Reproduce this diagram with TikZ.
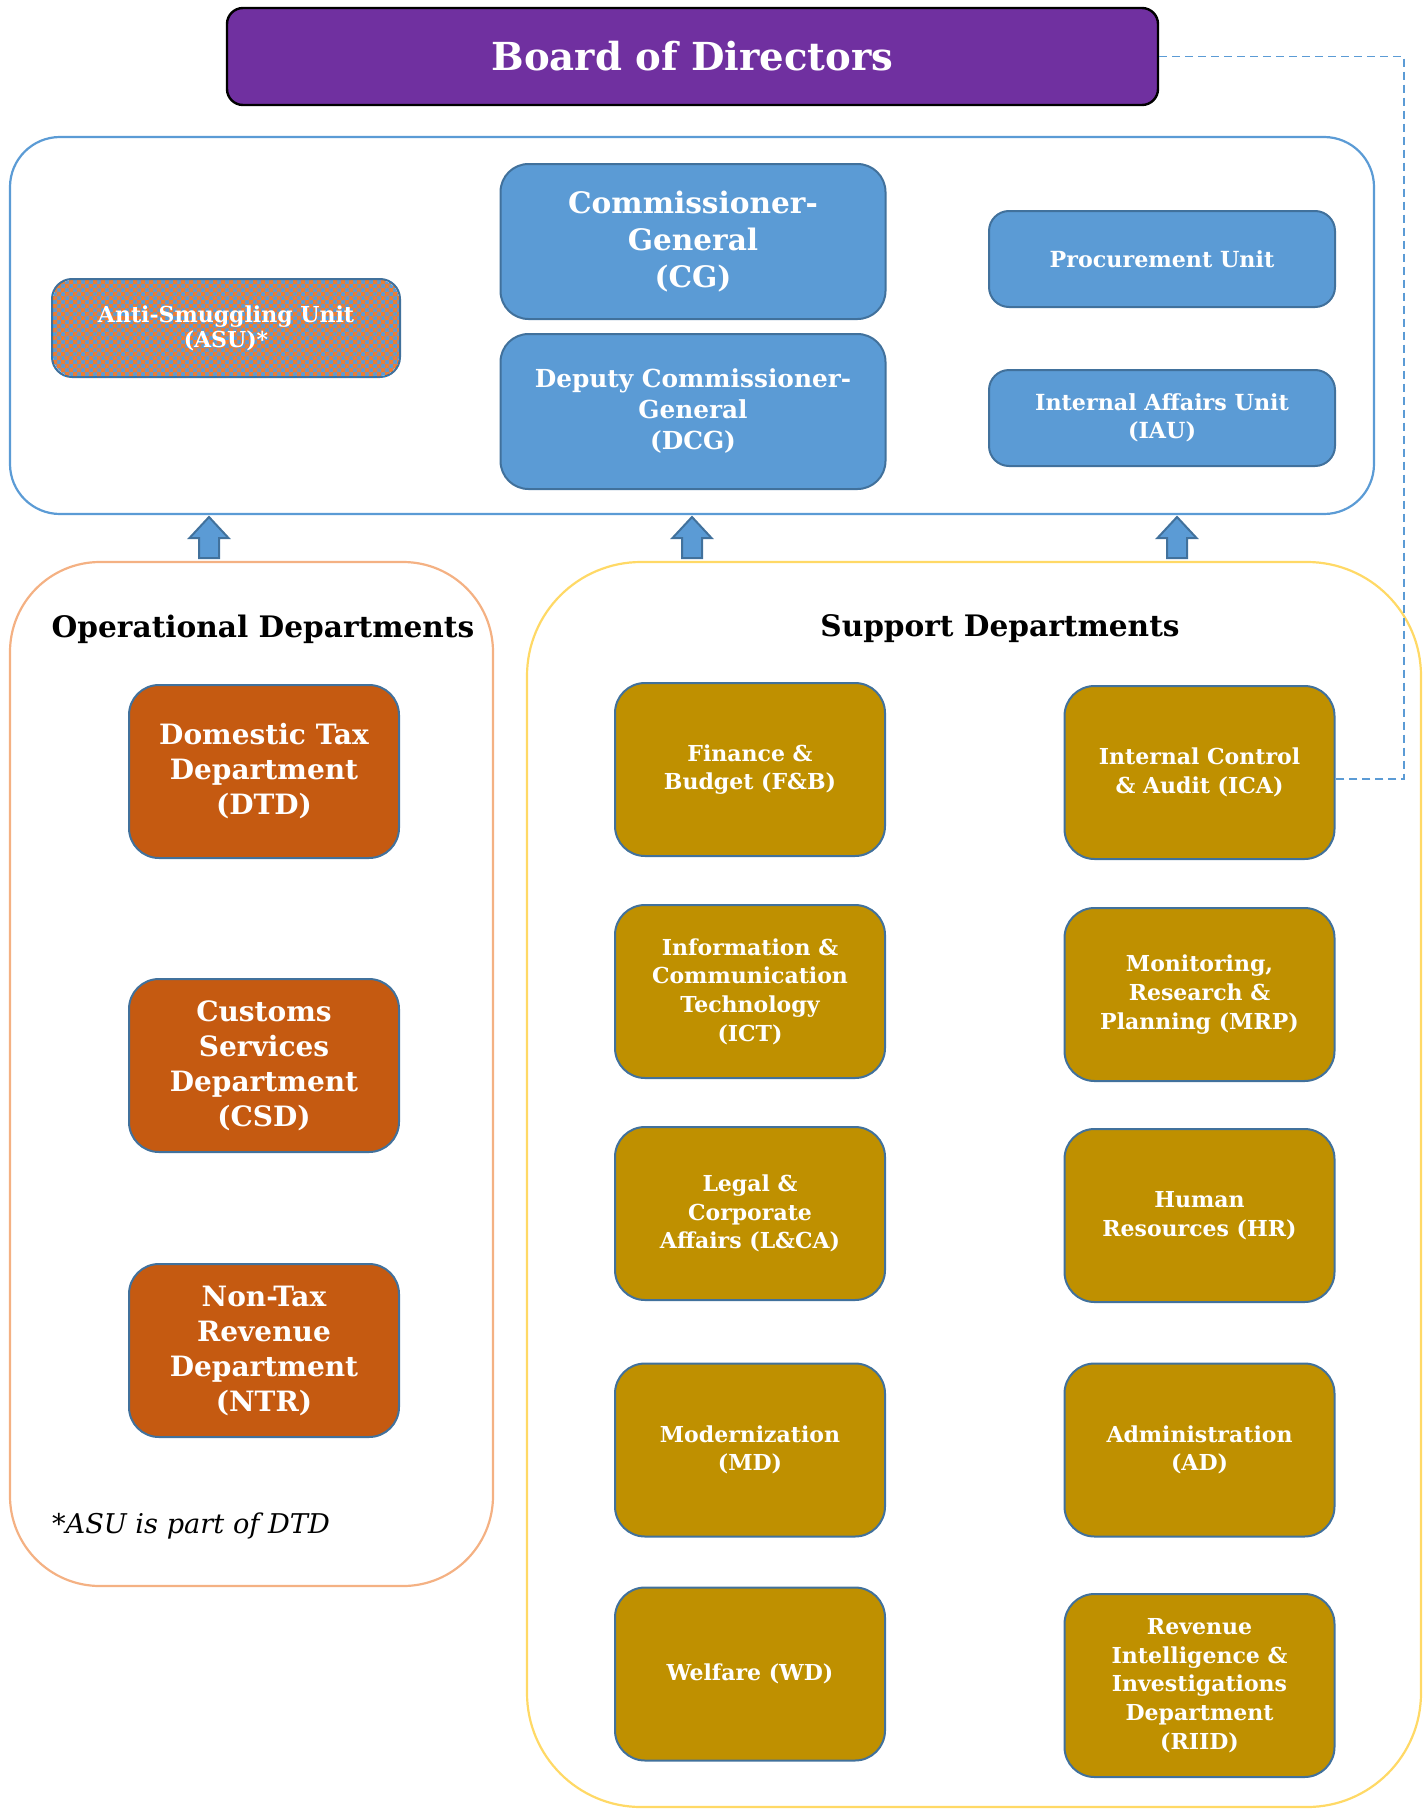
\documentclass[tikz,border=0pt]{standalone}
\usepackage{fontspec}
\setmainfont{DejaVu Serif}

\definecolor{boardpurple}{HTML}{7030A0}
\definecolor{unitblue}{HTML}{5B9BD5}
\definecolor{edgeblue}{HTML}{41719C}
\definecolor{opsorange}{HTML}{C55A11}
\definecolor{supgold}{HTML}{BF9000}
\definecolor{opsframe}{HTML}{F4B183}
\definecolor{supframe}{HTML}{FFD966}
\definecolor{checkorange}{HTML}{ED7D31}

\tikzset{
  frame/.style={draw, line width=1.1pt, rounded corners=#1, inner sep=0pt},
  unitbox/.style={draw=edgeblue, line width=1pt, fill=unitblue, rounded corners=14pt,
    text=white, font=\bfseries, align=center, inner sep=2pt},
  deptbox/.style={draw=edgeblue, line width=1pt, rounded corners=15pt,
    text=white, font=\bfseries, align=center, inner sep=2pt,
    minimum width=135pt, minimum height=86.5pt},
  opsbox/.style={deptbox, fill=opsorange, font=\bfseries\fontsize{14}{17.5}\selectfont},
  supbox/.style={deptbox, fill=supgold, font=\bfseries\fontsize{11}{14.3}\selectfont},
  heading/.style={font=\bfseries\fontsize{14.8}{18}\selectfont},
  uparrow/.style={draw=edgeblue, line width=1pt, fill=unitblue, line join=miter},
  reportline/.style={draw=unitblue, line width=0.6pt, dash pattern=on 4pt off 2.5pt}
}

\begin{document}
\begin{tikzpicture}[x=0.5pt, y=-0.5pt]
\useasboundingbox (0,0) rectangle (1428,1809);

% Board
\node[draw=black, line width=1.2pt, fill=boardpurple, rounded corners=8pt,
      minimum width=465.5pt, minimum height=48.5pt, text=white,
      font=\bfseries\fontsize{19.3}{24}\selectfont] (board) at (692.5,56.5) {Board of Directors};

% Executive frame
\node[frame=25pt, draw=unitblue, minimum width=682pt, minimum height=188.5pt] (exec) at (692,325.5) {};

\node[unitbox, minimum width=192.5pt, minimum height=77.5pt,
      font=\bfseries\fontsize{14.8}{18.5}\selectfont] (cg) at (693,241.5) {Commissioner-\\General\\(CG)};
\node[unitbox, minimum width=192.5pt, minimum height=77.5pt,
      font=\bfseries\fontsize{12.4}{15.5}\selectfont] (dcg) at (693,411.5) {Deputy Commissioner-\\General\\(DCG)};
\node[unitbox, minimum width=173pt, minimum height=48pt, rounded corners=10pt,
      font=\bfseries\fontsize{11.1}{14}\selectfont] (proc) at (1162,259) {Procurement Unit};
\node[unitbox, minimum width=173pt, minimum height=48pt, rounded corners=10pt,
      font=\bfseries\fontsize{11.1}{14}\selectfont] (iau) at (1162,418) {Internal Affairs Unit\\(IAU)};

% Anti-smuggling unit: blue box with an orange checkerboard
\node[unitbox, draw=none, minimum width=173pt, minimum height=48pt, rounded corners=10pt] (asu) at (226,328) {};
\begin{scope}
  \clip[rounded corners=10pt] (asu.south west) rectangle (asu.north east);
  \fill[checkorange] \foreach \i in {0,...,43} { \foreach \j in {0,...,12} {
      (53+8*\i,280+8*\j) rectangle ++(4,4) (57+8*\i,284+8*\j) rectangle ++(4,4) } };
\end{scope}
\draw[edgeblue, line width=1pt, rounded corners=10pt] (asu.south west) rectangle (asu.north east);
\node[text=white, font=\bfseries\fontsize{11}{12.5}\selectfont, align=center] (asutext) at (asu.center) {Anti-Smuggling Unit\\(ASU)*};

% Department frames
\node[frame=45pt, draw=opsframe, minimum width=241.5pt, minimum height=512pt] (ops) at (251.5,1074) {};
\node[frame=57pt, draw=supframe, minimum width=447pt, minimum height=622.5pt] (sup) at (974,1184.5) {};

\node[heading] (opstitle) at (263,629) {Operational Departments};
\node[heading] (suptitle) at (1000,629) {Support Departments};

% Upward arrows into the executive frame
\foreach \cx in {209, 692, 1177}{
  \draw[uparrow] (\cx,517) -- (\cx+19.5,538) -- (\cx+10,538) -- (\cx+10,558)
     -- (\cx-10,558) -- (\cx-10,538) -- (\cx-19.5,538) -- cycle;
}

% Operational departments
\node[opsbox] (dtd) at (264,771.5) {Domestic Tax\\Department\\(DTD)};
\node[opsbox] (csd) at (264,1065.5) {Customs\\Services\\Department\\(CSD)};
\node[opsbox] (ntr) at (264,1350.5) {Non-Tax\\Revenue\\Department\\(NTR)};

\node[anchor=west, font=\itshape\fontsize{13.6}{17}\selectfont] (note) at (45,1526) {*ASU is part of DTD};

% Support departments
\node[supbox] (fb)   at (750,769.5)   {Finance \&\\Budget (F\&B)};
\node[supbox] (ica)  at (1199.5,772.5) {Internal Control\\\& Audit (ICA)};
\node[supbox] (ict)  at (750,991.5)   {Information \&\\Communication\\Technology\\(ICT)};
\node[supbox] (mrp)  at (1199.5,994.5) {Monitoring,\\Research \&\\Planning (MRP)};
\node[supbox] (lca)  at (750,1213.5)  {Legal \&\\Corporate\\Affairs (L\&CA)};
\node[supbox] (hr)   at (1199.5,1215.5) {Human\\Resources (HR)};
\node[supbox] (md)   at (750,1450)    {Modernization\\(MD)};
\node[supbox] (ad)   at (1199.5,1450) {Administration\\(AD)};
\node[supbox] (wd)   at (750,1674)    {Welfare (WD)};
\node[supbox, minimum height=91.5pt] (riid) at (1199.5,1685.5) {Revenue\\Intelligence \&\\Investigations\\Department\\(RIID)};

% Dashed reporting line from internal audit to the board
\coordinate (bend) at (1404,779);
\draw[reportline] (board.east) -| (bend) -- (bend -| ica.east);
\end{tikzpicture}
\end{document}
